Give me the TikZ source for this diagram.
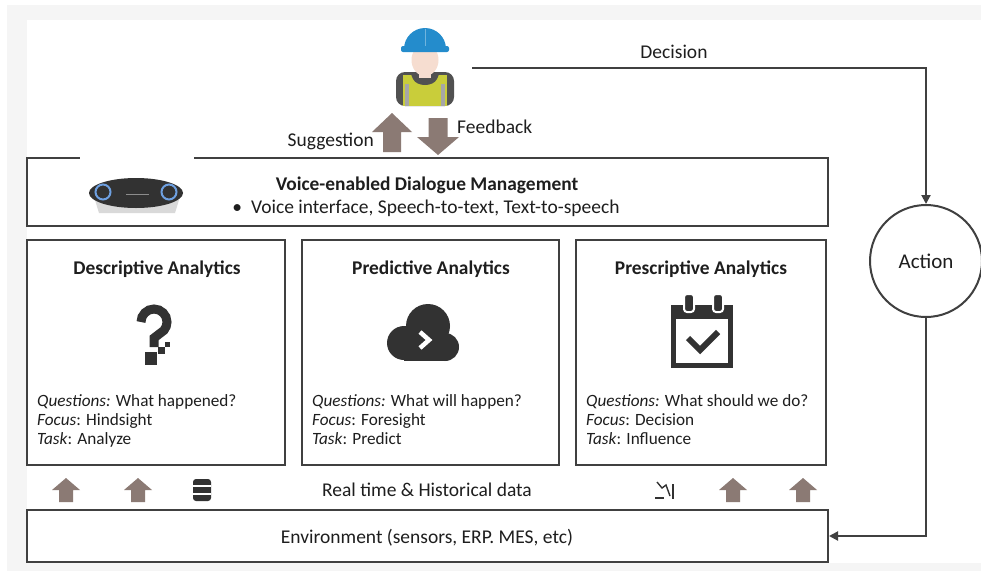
\documentclass[tikz,border=0pt]{standalone}
\usepackage{fontspec}
\setmainfont{Carlito}
\usetikzlibrary{arrows.meta}
\definecolor{frame}{RGB}{64,64,64}
\definecolor{taupe}{RGB}{139,122,116}
\definecolor{ink}{RGB}{30,30,30}
\definecolor{helmet}{RGB}{36,140,204}
\definecolor{skin}{RGB}{246,221,208}
\definecolor{vest}{RGB}{201,205,58}
\definecolor{icon}{RGB}{50,50,50}
\definecolor{ring}{RGB}{110,160,225}

\tikzset{
  panel/.style={draw=frame, line width=2pt, fill=white, inner sep=0pt},
  flow/.style={draw=frame, line width=2pt, -{Triangle[length=9pt,width=9pt]}},
  head/.style={font=\fontsize{19.4}{22}\selectfont\bfseries, text=ink, anchor=base, inner sep=0pt},
  txt/.style={font=\fontsize{19.5}{22}\selectfont, text=ink, anchor=base, inner sep=0pt},
  line/.style={font=\fontsize{17.2}{20}\selectfont, text=ink, anchor=base west, inner sep=0pt},
}

\begin{document}
\begin{tikzpicture}[x=1pt,y=-1pt]
  \useasboundingbox (0,0) rectangle (981,571);
  \fill[black!4] (7,5) rectangle (981,571);
  \fill[white] (27,20) rectangle (981,563);

  % boxes
  \node[panel, minimum width=801pt, minimum height=68pt] (dialog) at (427.5,192) {};
  \node[panel, minimum width=258pt, minimum height=225pt] (desc) at (156,352.5) {};
  \node[panel, minimum width=257pt, minimum height=225pt] (pred) at (430.5,352.5) {};
  \node[panel, minimum width=250pt, minimum height=225pt] (presc) at (701,352.5) {};
  \node[panel, minimum width=801pt, minimum height=52pt] (env) at (427.5,536) {};
  \node[circle, draw=frame, line width=2pt, minimum size=112pt, inner sep=0pt,
        font=\fontsize{21}{24}\selectfont, text=ink] (action) at (926,261) {Action};

  % operator
  \node[minimum width=60pt, minimum height=84pt] (worker) at (425,65) {};
  \fill[icon!85, rounded corners=9] (396,106) -- (396,72) -- (454,72) -- (454,106) -- cycle;
  \fill[vest] (403,75) rectangle (447,106);
  \fill[black!35] (405,84) rectangle (409,106);
  \fill[black!35] (441,84) rectangle (445,106);
  \fill[icon!85] (410,72) -- (440,72) -- (437,79) .. controls (433,87) and (417,87) .. (413,79) -- cycle;
  \fill[skin] (419,66) rectangle (431,78);
  \fill[skin] (425,60) ellipse (13.5 and 16);
  \fill[helmet] (404,49) arc[start angle=180, end angle=360, radius=21] -- cycle;
  \fill[helmet, rounded corners=2] (401,46) rectangle (449,52);
  \draw[white, opacity=.35, line width=1pt] (425,29) -- (425,46);

  % suggestion / feedback
  \fill[taupe] (392,113) -- ++(20,19) -- ++(-11,0) -- ++(0,20) -- ++(-18,0) -- ++(0,-20) -- ++(-11,0) -- cycle;
  \fill[taupe] (438,155) -- ++(21,-18) -- ++(-11.5,0) -- ++(0,-19) -- ++(-19,0) -- ++(0,19) -- ++(-11.5,0) -- cycle;
  \node[txt, anchor=base east] (sugg) at (374,146) {Suggestion};
  \node[txt, anchor=base west] (feed) at (457,133) {Feedback};

  % decision loop
  \coordinate (dec) at (472,68);
  \draw[flow] (dec) -| (action.north);
  \node[txt] (declabel) at (674,58) {Decision};
  \draw[flow] (action.south) |- (env.east);

  % dialogue management
  \fill[white] (80,150) rectangle (194,166);
  \fill[black!15] (95,200) -- (179,200) -- (175,213) -- (99,213) -- cycle;
  \fill[icon] (136,193) ellipse (47 and 15);
  \draw[ring, line width=2pt] (103,192) circle (7.5);
  \draw[ring, line width=2pt] (169,192) circle (7.5);
  \draw[black!45, line width=1pt] (126,194) -- (149,194);
  \node[head] (dtitle) at (427,190) {Voice-enabled Dialogue Management};
  \node[txt] (dbullet) at (426,213) {\textbullet\ \ Voice interface, Speech-to-text, Text-to-speech};

  % descriptive
  \node[head] (t1) at (157,274) {Descriptive Analytics};
  \draw[icon, line width=9pt] (141,322) arc[start angle=180, end angle=400, radius=13] -- (154,338) -- (154,347);
  \fill[icon] (145,352) rectangle (157,365);
  \fill[icon] (158,347) rectangle (165,354);
  \fill[icon] (165,342) rectangle (170,347);
  \node[line] (q1) at (37,406) {\textit{Questions:} What happened?};
  \node[line] (f1) at (37,425) {\textit{Focus}: Hindsight};
  \node[line] (k1) at (37,444) {\textit{Task}: Analyze};

  % predictive
  \node[head] (t2) at (431,274) {Predictive Analytics};
  \fill[icon] (428,326) circle (22);
  \fill[icon] (404,343) circle (17);
  \fill[icon] (445,347) circle (14);
  \fill[icon] (404,336) rectangle (445,361);
  \draw[white, line width=4.5pt] (420,332) -- (429,340) -- (420,348);
  \node[line] (q2) at (312,406) {\textit{Questions:} What will happen?};
  \node[line] (f2) at (312,425) {\textit{Focus}: Foresight};
  \node[line] (k2) at (312,444) {\textit{Task}: Predict};

  % prescriptive
  \node[head] (t3) at (701,274) {Prescriptive Analytics};
  \draw[icon, line width=5pt] (673.5,307.5) rectangle (730.5,365.5);
  \fill[icon] (671,305) rectangle (733,319);
  \filldraw[icon, draw=white, line width=2pt, rounded corners=3] (684,294) rectangle (694,312);
  \filldraw[icon, draw=white, line width=2pt, rounded corners=3] (713,294) rectangle (723,312);
  \draw[icon, line width=6pt] (688,338) -- (700,350) -- (718,332);
  \node[line] (q3) at (586,406) {\textit{Questions:} What should we do?};
  \node[line] (f3) at (586,425) {\textit{Focus}: Decision};
  \node[line] (k3) at (586,444) {\textit{Task}: Influence};

  % data row
  \foreach \x in {66,138,733,803}{
    \fill[taupe] (\x,478) -- ++(14,12) -- ++(-7,0) -- ++(0,12) -- ++(-14,0) -- ++(0,-12) -- ++(-7,0) -- cycle;
  }
  \fill[icon, rounded corners=3] (193,479) rectangle (211,501);
  \draw[white, line width=1.5pt] (193,486) -- (211,486);
  \draw[white, line width=1.5pt] (193,494) -- (211,494);
  \draw[icon, line width=1.4pt] (657,482) -- (662,488) -- (666,485) -- (670,496);
  \draw[icon, line width=1.4pt] (673,484) -- (673,499);
  \draw[icon, line width=1.4pt] (655,498) -- (664,498);
  \node[txt] (data) at (427,496) {Real time \& Historical data};

  \node[txt] (envtext) at (427,543) {Environment (sensors, ERP. MES, etc)};

\end{tikzpicture}
\end{document}
